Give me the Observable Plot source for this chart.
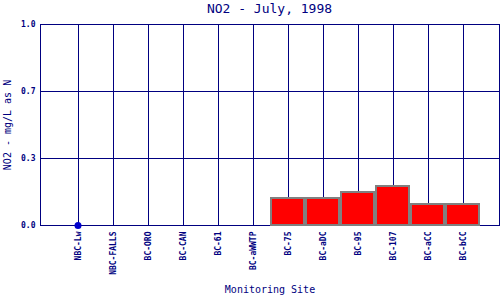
<!DOCTYPE html>
<html>
<head>
<meta charset="utf-8">
<script src="https://cdn.jsdelivr.net/npm/d3@7"></script>
<script src="https://cdn.jsdelivr.net/npm/@observablehq/plot@0.6"></script>
<style>
  html, body { margin: 0; padding: 0; background: #fff; }
  #wrap { width: 500px; height: 300px; position: relative; }
  #title { height: 20px; line-height: 17px; padding-left: 40px; width: 459px; text-align: center;
           font-family: "DejaVu Sans Mono", monospace; font-size: 13px; color: #000080; }
  svg { display: block; }
  svg line, svg path, svg rect { shape-rendering: crispEdges; }
</style>
</head>
<body>
<div id="wrap">
  <div id="title">NO2 - July, 1998</div>
  <div id="chart"></div>
</div>
<script>
const sites = ["NBC-Lw", "NBC-FALLS", "BC-ORO", "BC-CAN", "BC-61", "BC-aWWTP",
               "BC-75", "BC-aDC", "BC-95", "BC-107", "BC-aCC", "BC-bCC"];
const no2 = [null, 0, 0, 0, 0, 0, 0.134, 0.134, 0.166, 0.194, 0.104, 0.104];
const pointSites = ["NBC-Lw"];
const pointValues = [0];
const yTicks = [0, 1/3, 2/3, 1];

const navy = "#000080";
const bars = sites.map((s, i) => ({site: s, value: no2[i]})).filter(d => d.value !== null);
const points = pointSites.map((s, i) => ({site: s, value: pointValues[i]}));

const chart = Plot.plot({
  width: 500,
  height: 280,
  marginTop: 4,
  marginLeft: 40,
  marginRight: 1,
  marginBottom: 75,
  style: {fontFamily: "DejaVu Sans Mono, monospace", color: navy, background: "#fff", overflow: "visible"},
  x: {type: "band", domain: sites, paddingInner: 0.067, paddingOuter: 0.5335},
  y: {domain: [0, 1]},
  marks: [
    Plot.gridY(yTicks, {stroke: navy, strokeOpacity: 1, strokeWidth: 1}),
    Plot.gridX(sites, {stroke: navy, strokeOpacity: 1, strokeWidth: 1}),
    Plot.frame({stroke: navy, strokeWidth: 1}),
    Plot.barY(bars, {x: "site", y: "value", fill: "#ff0000", stroke: "#808080", strokeWidth: 2}),
    Plot.dot(points, {x: "site", y: "value", r: 3.5, fill: "#0000cc", stroke: "none"}),
    Plot.axisX({tickRotate: -90, tickSize: 0, tickPadding: 6, fontSize: 8, fontWeight: "bold", label: null, fill: navy}),
    Plot.axisY(yTicks, {tickSize: 0, tickPadding: 5, fontSize: 8, fontWeight: "bold", tickFormat: d => d.toFixed(1), label: null, fill: navy}),
    Plot.text(["NO2 - mg/L as N"], {frameAnchor: "left", textAnchor: "middle", dx: -33, rotate: -90, fontSize: 10, fill: navy}),
    Plot.text(["Monitoring Site"], {frameAnchor: "bottom", dy: 67, fontSize: 10, fill: navy})
  ]
});
document.getElementById("chart").appendChild(chart);
</script>
</body>
</html>
